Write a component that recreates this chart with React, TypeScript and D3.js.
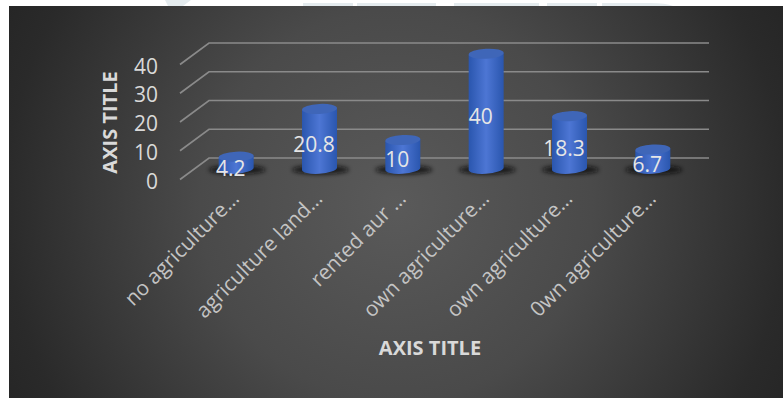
import React from "react";
import * as d3 from "d3";

const W = 783;
const H = 398;

const categories = [
  "no agriculture…",
  "agriculture land…",
  "rented aur …",
  "own agriculture…",
  "own agriculture…",
  "0wn agriculture…",
];
const seriesValues = [4.2, 20.8, 10, 40, 18.3, 6.7];
const valueTicks = [0, 10, 20, 30, 40];

const FONT = "'Open Sans', sans-serif";
const DEPTH_X = 29;
const DEPTH_Y = -21.5;

const x = d3.scaleBand<number>().domain(d3.range(categories.length)).range([180, 680]);
const y = d3.scaleLinear().domain([0, 40]).range([179.5, 64.5]);

const RX = 17.5;
const RY = 5;
const TILT = 1;

export default function App() {
  const line = d3.line();
  return (
    <svg
      width={W}
      height={H}
      viewBox={`0 0 ${W} ${H}`}
      style={{ position: "absolute", left: 0, top: 0, background: "#fff" }}
    >
      <defs>
        <radialGradient id="bg" gradientUnits="userSpaceOnUse" cx={396} cy={205} r={435}>
          <stop offset="0" stopColor="#5a5a5a" />
          <stop offset="0.45" stopColor="#4a4a4a" />
          <stop offset="0.9" stopColor="#2a2a2a" />
          <stop offset="1" stopColor="#262626" />
        </radialGradient>
        <linearGradient id="barSide" x1="0" x2="1" y1="0" y2="0">
          <stop offset="0" stopColor="#2a56ae" />
          <stop offset="0.5" stopColor="#4d76d4" />
          <stop offset="1" stopColor="#2a56ae" />
        </linearGradient>
        <filter id="soft" x="-30%" y="-80%" width="160%" height="260%">
          <feGaussianBlur stdDeviation="2.2" />
        </filter>
      </defs>

      {/* faint letterhead shapes above the chart panel */}
      <g fill="#e4ebee">
        <path d="M165 0H191L183 6H168Z" />
        <rect x={303} y={3} width={50} height={3} />
        <rect x={357} y={3} width={79} height={3} />
        <rect x={454} y={3} width={85} height={3} />
        <rect x={547} y={3} width={50} height={3} />
        <path d="M602 3H650Q666 3 673 6H602Z" />
      </g>

      <rect x={9} y={6} width={W - 9} height={H - 6} fill="url(#bg)" />

      {/* wall and side gridlines */}
      {valueTicks.map((t) => {
        const yy = y(t);
        return (
          <g key={t}>
            <path
              d={line([
                [x.range()[0], yy],
                [x.range()[0] + DEPTH_X, yy + DEPTH_Y],
                [x.range()[1] + DEPTH_X, yy + DEPTH_Y],
              ]) ?? undefined}
              fill="none"
              stroke="#8a8a8a"
              strokeWidth={1.7}
            />
            <text x={158} y={yy + 1.5} dy="0.36em" textAnchor="end" fontFamily={FONT} fontSize={21} fill="#d9d9d9">
              {t}
            </text>
          </g>
        );
      })}

      {/* cylinders with floor shadows */}
      {seriesValues.map((v, i) => {
        const cx = x(i)! + x.bandwidth() / 2 + DEPTH_X / 2;
        const base = y(0) + DEPTH_Y / 2;
        const top = y(v) + DEPTH_Y / 2;
        return (
          <g key={i}>
            <ellipse cx={cx + 1} cy={base + 1} rx={RX + 11} ry={4.5} fill="#111" opacity={0.8} filter="url(#soft)" />
            <path
              d={`M${cx - RX} ${top + TILT}L${cx - RX} ${base + TILT}A${RX} ${RY} -4 0 0 ${cx + RX} ${base - TILT}L${cx + RX} ${top - TILT}Z`}
              fill="url(#barSide)"
            />
            <ellipse cx={cx} cy={top} rx={RX} ry={RY} fill="#3f66b8" transform={`rotate(-3 ${cx} ${top})`} />
          </g>
        );
      })}

      {/* data labels */}
      {seriesValues.map((v, i) => {
        const cx = x(i)! + x.bandwidth() / 2 + DEPTH_X / 2;
        const mid = (y(v) + y(0)) / 2 + DEPTH_Y / 2;
        return (
          <text key={i} x={cx - 5.5} y={mid + 5.5} dy="0.36em" textAnchor="middle" fontFamily={FONT} fontSize={21} fill="#e6e6e6">
            {v}
          </text>
        );
      })}

      {/* category labels */}
      {categories.map((c, i) => {
        const tx = x(i)! + x.bandwidth() / 2 + 8.5;
        return (
          <text
            key={i}
            transform={`translate(${tx},189.5) rotate(-45)`}
            textAnchor="end"
            dy="0.7em"
            fontFamily={FONT}
            fontSize={20.8}
            fill="#c4c4c4"
          >
            {c}
          </text>
        );
      })}

      <text
        transform="translate(110,122.5) rotate(-90)"
        textAnchor="middle"
        dy="0.36em"
        fontFamily={FONT}
        fontWeight={700}
        fontSize={20}
        fill="#d9d9d9"
      >
        AXIS TITLE
      </text>
      <text x={430} y={348} dy="0.36em" textAnchor="middle" fontFamily={FONT} fontWeight={700} fontSize={20} fill="#d9d9d9">
        AXIS TITLE
      </text>
    </svg>
  );
}
